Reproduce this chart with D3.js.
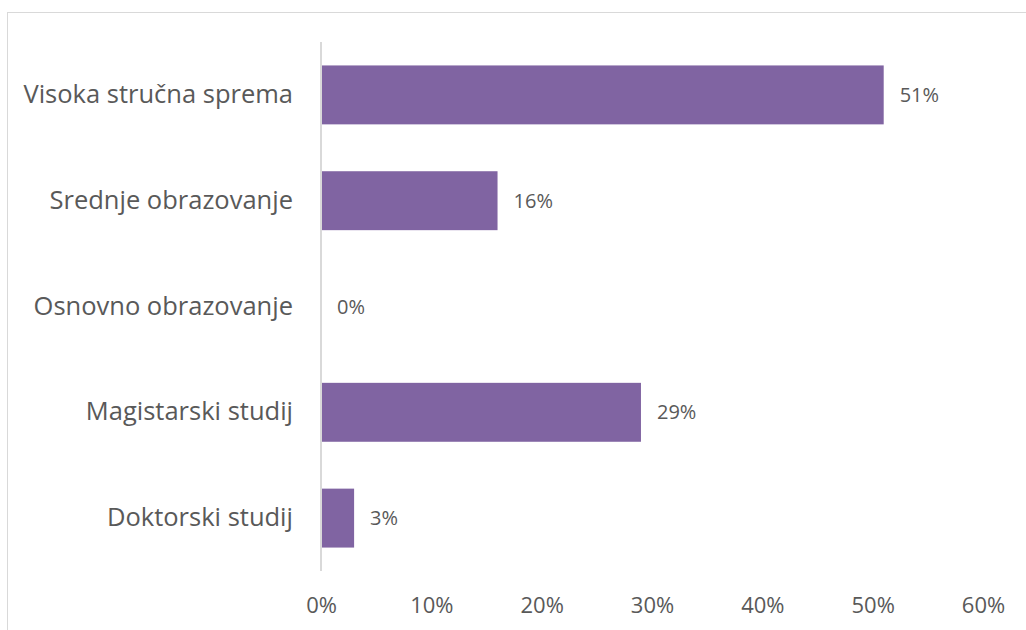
<!DOCTYPE html>
<html>
<head>
<meta charset="utf-8">
<script src="https://cdn.jsdelivr.net/npm/d3@7"></script>
<style>
  html, body { margin: 0; padding: 0; background: #ffffff; }
  svg { display: block; font-family: "Open Sans", "Noto Sans", sans-serif; }
</style>
</head>
<body>
<svg id="chart" width="1026" height="630"></svg>
<script>
// Education level shares (percent of respondents)
const categories = [
  "Visoka stručna sprema",
  "Srednje obrazovanje",
  "Osnovno obrazovanje",
  "Magistarski studij",
  "Doktorski studij"
];
const values = [51, 16, 0, 29, 3];
const tickValues = [0, 10, 20, 30, 40, 50, 60];

const svg = d3.select("#chart");
const textColor = "#595959";
const barColor = "#8064a2";
const lineColor = "#d9d9d9";

// Chart frame
svg.append("rect")
  .attr("x", 7.5).attr("y", 12.5)
  .attr("width", 1040).attr("height", 650)
  .attr("fill", "none")
  .attr("stroke", lineColor)
  .attr("stroke-width", 1);

const x = d3.scaleLinear().domain([0, 60]).range([321, 983]);
const y = d3.scaleBand()
  .domain(categories)
  .range([42, 571])
  .paddingInner(0.443)
  .paddingOuter(0.2215);

// Bars
svg.append("g").selectAll("rect")
  .data(categories)
  .join("rect")
  .attr("x", x(0))
  .attr("y", d => y(d))
  .attr("width", (d, i) => x(values[i]) - x(0))
  .attr("height", y.bandwidth())
  .attr("fill", barColor);

// Vertical category axis line
svg.append("line")
  .attr("x1", x(0)).attr("x2", x(0))
  .attr("y1", 42).attr("y2", 571)
  .attr("stroke", lineColor)
  .attr("stroke-width", 2);

// Category labels
const yAxis = d3.axisLeft(y).tickSize(0).tickPadding(28);
const gy = svg.append("g")
  .attr("transform", `translate(${x(0)},0)`)
  .call(yAxis);
gy.select(".domain").remove();
gy.selectAll("text")
  .attr("fill", textColor)
  .style("font-size", "25.5px")
  .style("font-family", "\"Open Sans\", sans-serif");

// Percentage axis labels
const xAxis = d3.axisBottom(x)
  .tickValues(tickValues)
  .tickSize(0)
  .tickPadding(26)
  .tickFormat(d => d + "%");
const gx = svg.append("g")
  .attr("transform", "translate(0,571)")
  .call(xAxis);
gx.select(".domain").remove();
gx.selectAll("text")
  .attr("fill", textColor)
  .style("font-size", "22px")
  .style("font-family", "\"Open Sans\", sans-serif");

// Value labels
svg.append("g").selectAll("text")
  .data(categories)
  .join("text")
  .attr("x", (d, i) => x(values[i]) + 16)
  .attr("y", d => y(d) + y.bandwidth() / 2)
  .attr("dy", "0.35em")
  .attr("fill", textColor)
  .style("font-size", "20px")
  .text((d, i) => values[i] + "%");
</script>
</body>
</html>
